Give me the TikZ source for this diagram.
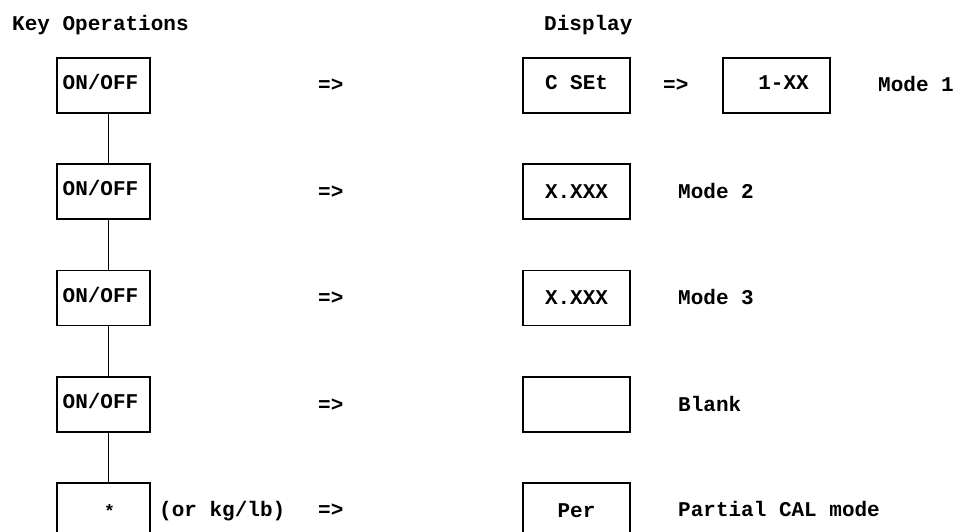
\documentclass[tikz,border=0pt]{standalone}
\usepackage{fontspec}
\setmonofont{Liberation Mono}
\begin{document}
\begin{tikzpicture}[x=1pt,y=-1pt,
  txt/.style={font=\ttfamily\bfseries\fontsize{21}{24}\selectfont, inner sep=0pt, text height=13pt, text depth=0pt, anchor=west},
  keybox/.style={draw, line width=1.4pt, minimum width=93pt, minimum height=55pt, inner sep=0pt, text height=13pt, text depth=5pt, font=\ttfamily\bfseries\fontsize{21}{24}\selectfont},
  dispbox/.style={keybox, minimum width=107pt, text depth=0pt},
  raisedbox/.style={dispbox, text depth=5pt},
  link/.style={line width=1.6pt}]
\clip (0,0) rectangle (957,531);
\fill[white] (0,0) rectangle (957,531);
% headings
\node[txt] (hkey) at (12,24) {Key Operations};
\node[txt] (hdisp) at (544,24) {Display};
% key boxes
\node[keybox] (k1) at (103.5,85.5) {ON/OFF\kern6pt};
\node[keybox] (k2) at (103.5,191.5) {ON/OFF\kern6pt};
\node[keybox] (k3) at (103.5,298) {ON/OFF\kern6pt};
\node[keybox] (k4) at (103.5,404.5) {ON/OFF\kern6pt};
\node[keybox] (k5) at (103.5,510.5) {};
\node[txt, font=\ttfamily\bfseries\fontsize{18}{20}\selectfont] (star) at (104,511) {*};
\node[txt] (orkg) at (159,510) {(or kg/lb)};
% connectors
\foreach \a/\b in {k1/k2,k2/k3,k3/k4,k4/k5}
  \draw[link] ([xshift=5pt]\a.south) -- ([xshift=5pt]\a.south |- \b.north);
% arrows text
\node[txt] (a1) at (318,85) {=>};
\node[txt] (a2) at (318,191.5) {=>};
\node[txt] (a3) at (318,298) {=>};
\node[txt] (a4) at (318,404.5) {=>};
\node[txt] (a5) at (318,510) {=>};
% display boxes
\node[raisedbox] (d1) at (576.5,85.5) {C SEt};
\node[txt] (a6) at (663,85) {=>};
\node[raisedbox] (d1b) at (776.5,85.5) {\kern14pt 1-XX};
\node[dispbox] (d2) at (576.5,191.5) {X.XXX};
\node[dispbox] (d3) at (576.5,298) {X.XXX};
\node[dispbox] (d4) at (576.5,404.5) {};
\node[dispbox] (d5) at (576.5,510.5) {Per};
% labels
\node[txt] (m1) at (878,85) {Mode 1};
\node[txt] (m2) at (678,191.5) {Mode 2};
\node[txt] (m3) at (678,298) {Mode 3};
\node[txt] (m4) at (678,404.5) {Blank};
\node[txt] (m5) at (678,510) {Partial CAL mode};
\end{tikzpicture}
\end{document}
